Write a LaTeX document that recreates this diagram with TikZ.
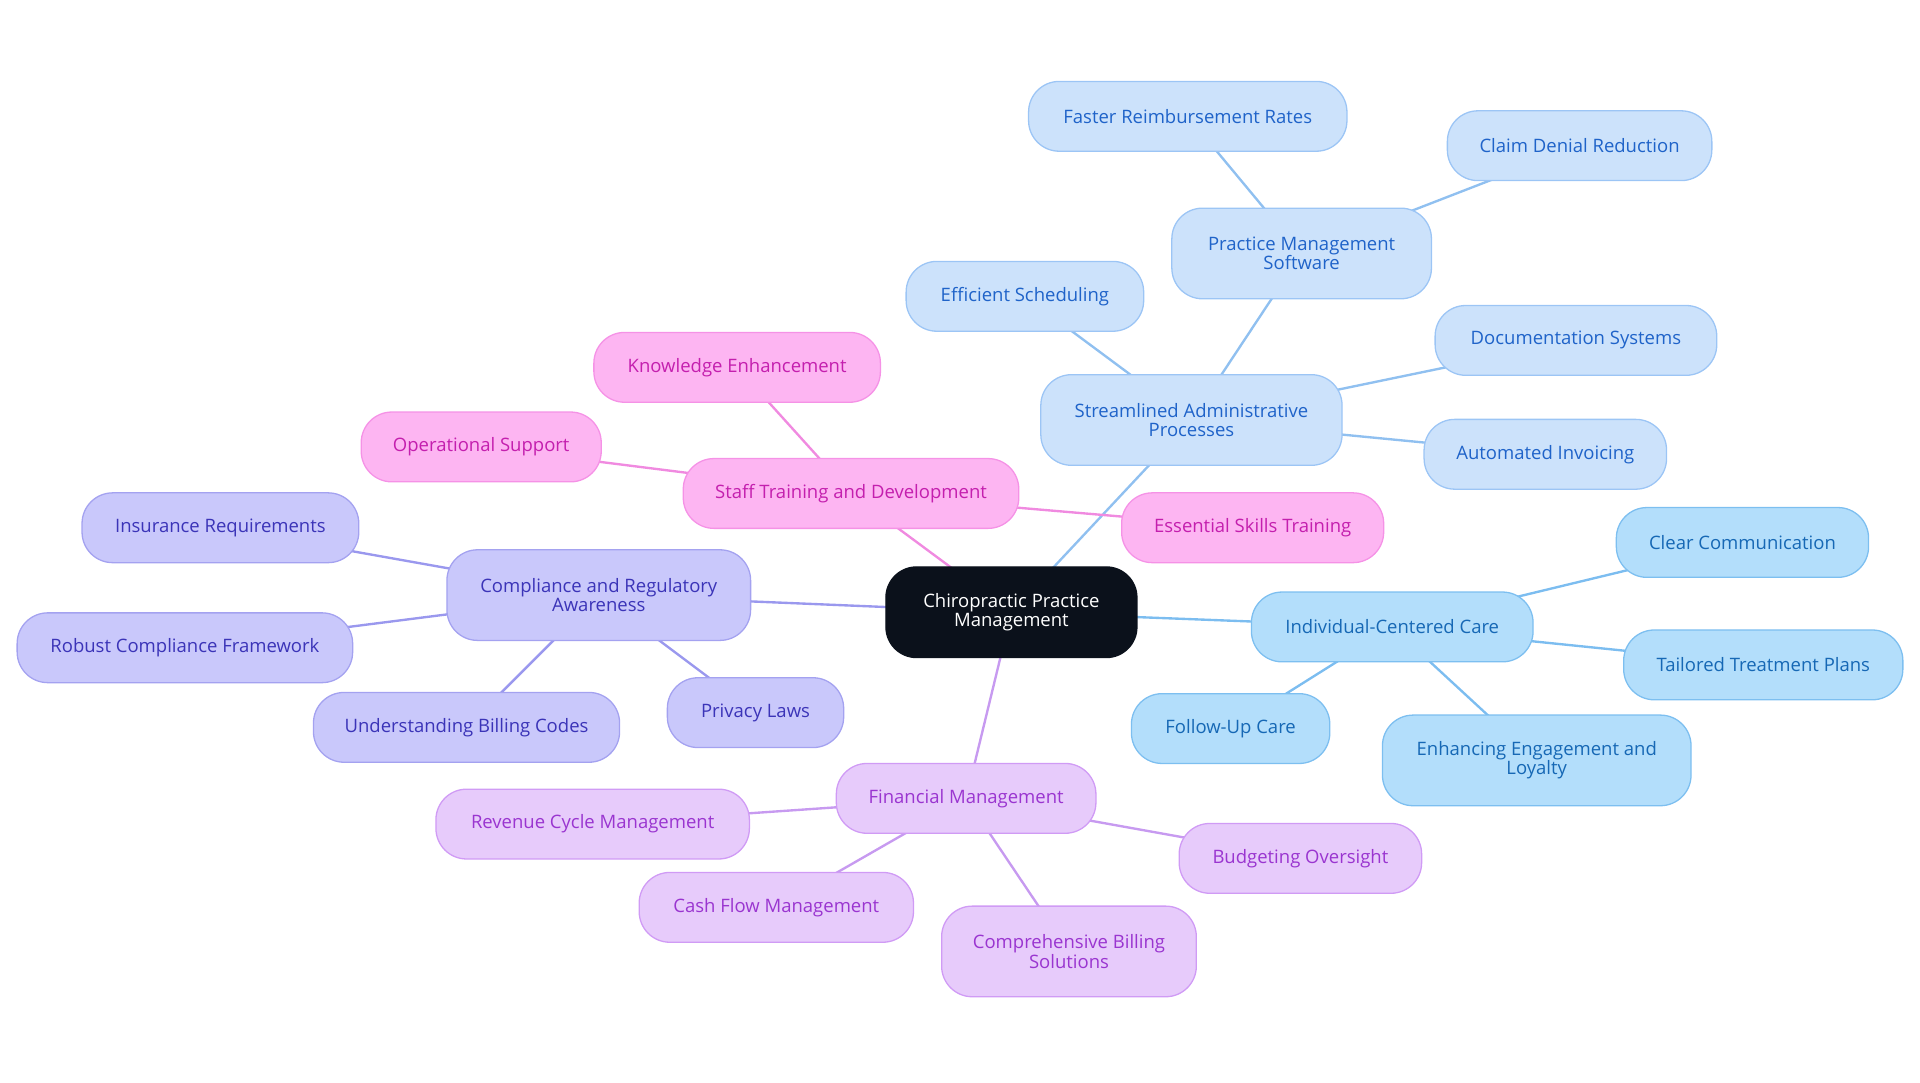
\documentclass[tikz,border=0pt]{standalone}
\usepackage{fontspec}
\setmainfont{Open Sans}
\usetikzlibrary{backgrounds}
\definecolor{bF}{HTML}{CCE2FB}\definecolor{bS}{HTML}{9CC5F5}\definecolor{bT}{HTML}{1F63C9}\definecolor{bE}{HTML}{90C0F0}
\definecolor{cF}{HTML}{B3DEFB}\definecolor{cS}{HTML}{7DBFF0}\definecolor{cT}{HTML}{1668B5}\definecolor{cE}{HTML}{7CBDF0}
\definecolor{pF}{HTML}{FDB5F2}\definecolor{pS}{HTML}{F592E6}\definecolor{pT}{HTML}{C41FAE}\definecolor{pE}{HTML}{F08AE0}
\definecolor{iF}{HTML}{C9C8FB}\definecolor{iS}{HTML}{A4A2F0}\definecolor{iT}{HTML}{3B34B8}\definecolor{iE}{HTML}{9A98EE}
\definecolor{uF}{HTML}{E7CBFB}\definecolor{uS}{HTML}{D09BF5}\definecolor{uT}{HTML}{9A35D0}\definecolor{uE}{HTML}{C79AF0}
\definecolor{kF}{HTML}{0B111B}
\tikzset{
 box/.style={rounded corners=0.5cm,draw,line width=0.6pt,align=center,font=\fontsize{8.6}{9}\selectfont,inner sep=0pt},
 B/.style={box,fill=bF,draw=bS,text=bT}, C/.style={box,fill=cF,draw=cS,text=cT},
 P/.style={box,fill=pF,draw=pS,text=pT}, I/.style={box,fill=iF,draw=iS,text=iT},
 U/.style={box,fill=uF,draw=uS,text=uT}, K/.style={box,fill=kF,draw=kF,text=white},
 e/.style={line width=1.1pt}}
\newcommand\nd[7]{\node[#6,minimum width=#4*0.02cm,minimum height=#5*0.02cm] (#1) at (#2,#3) {#7};}
\begin{document}
\begin{tikzpicture}[x=0.02cm,y=-0.02cm]
\useasboundingbox (0,0) rectangle (1568,884);
\nd{c}{826}{500}{205}{74}{K}{Chiropractic Practice\\Management}
\nd{s}{973}{343}{246}{74}{B}{Streamlined Administrative\\Processes}
\nd{pm}{1063}{207}{212}{74}{B}{Practice Management\\Software}
\nd{fr}{970}{95}{260}{57}{B}{Faster Reimbursement Rates}
\nd{cd}{1290}{119}{216}{57}{B}{Claim Denial Reduction}
\nd{es}{837}{242}{194}{57}{B}{Efficient Scheduling}
\nd{ds}{1287}{278}{230}{57}{B}{Documentation Systems}
\nd{ai}{1262}{371}{198}{57}{B}{Automated Invoicing}
\nd{ic}{1137}{512}{230}{57}{C}{Individual-Centered Care}
\nd{cc}{1423}{443}{206}{57}{C}{Clear Communication}
\nd{tt}{1440}{543}{228}{57}{C}{Tailored Treatment Plans}
\nd{fu}{1005}{595}{162}{57}{C}{Follow-Up Care}
\nd{en}{1255}{621}{252}{74}{C}{Enhancing Engagement and\\Loyalty}
\nd{st}{695}{403}{274}{57}{P}{Staff Training and Development}
\nd{ke}{602}{300}{234}{57}{P}{Knowledge Enhancement}
\nd{os}{393}{365}{196}{57}{P}{Operational Support}
\nd{est}{1023}{431}{214}{57}{P}{Essential Skills Training}
\nd{co}{489}{486}{248}{74}{I}{Compliance and Regulatory\\Awareness}
\nd{ir}{180}{431}{226}{57}{I}{Insurance Requirements}
\nd{rc}{151}{529}{274}{57}{I}{Robust Compliance Framework}
\nd{ub}{381}{594}{250}{57}{I}{Understanding Billing Codes}
\nd{pl}{617}{582}{144}{57}{I}{Privacy Laws}
\nd{fm}{789}{652}{212}{57}{U}{Financial Management}
\nd{rv}{484}{673}{256}{57}{U}{Revenue Cycle Management}
\nd{cf}{634}{741}{224}{57}{U}{Cash Flow Management}
\nd{cb}{873}{777}{208}{74}{U}{Comprehensive Billing\\Solutions}
\nd{bo}{1062}{701}{198}{57}{U}{Budgeting Oversight}
\begin{scope}[on background layer]
\draw[e,bE] (c.center)--(s.center) (s.center)--(pm.center) (pm.center)--(fr.center) (pm.center)--(cd.center) (s.center)--(es.center) (s.center)--(ds.center) (s.center)--(ai.center);
\draw[e,cE] (c.center)--(ic.center) (ic.center)--(cc.center) (ic.center)--(tt.center) (ic.center)--(fu.center) (ic.center)--(en.center);
\draw[e,pE] (c.center)--(st.center) (st.center)--(ke.center) (st.center)--(os.center) (st.center)--(est.center);
\draw[e,iE] (c.center)--(co.center) (co.center)--(ir.center) (co.center)--(rc.center) (co.center)--(ub.center) (co.center)--(pl.center);
\draw[e,uE] (c.center)--(fm.center) (fm.center)--(rv.center) (fm.center)--(cf.center) (fm.center)--(cb.center) (fm.center)--(bo.center);
\end{scope}
\end{tikzpicture}
\end{document}
